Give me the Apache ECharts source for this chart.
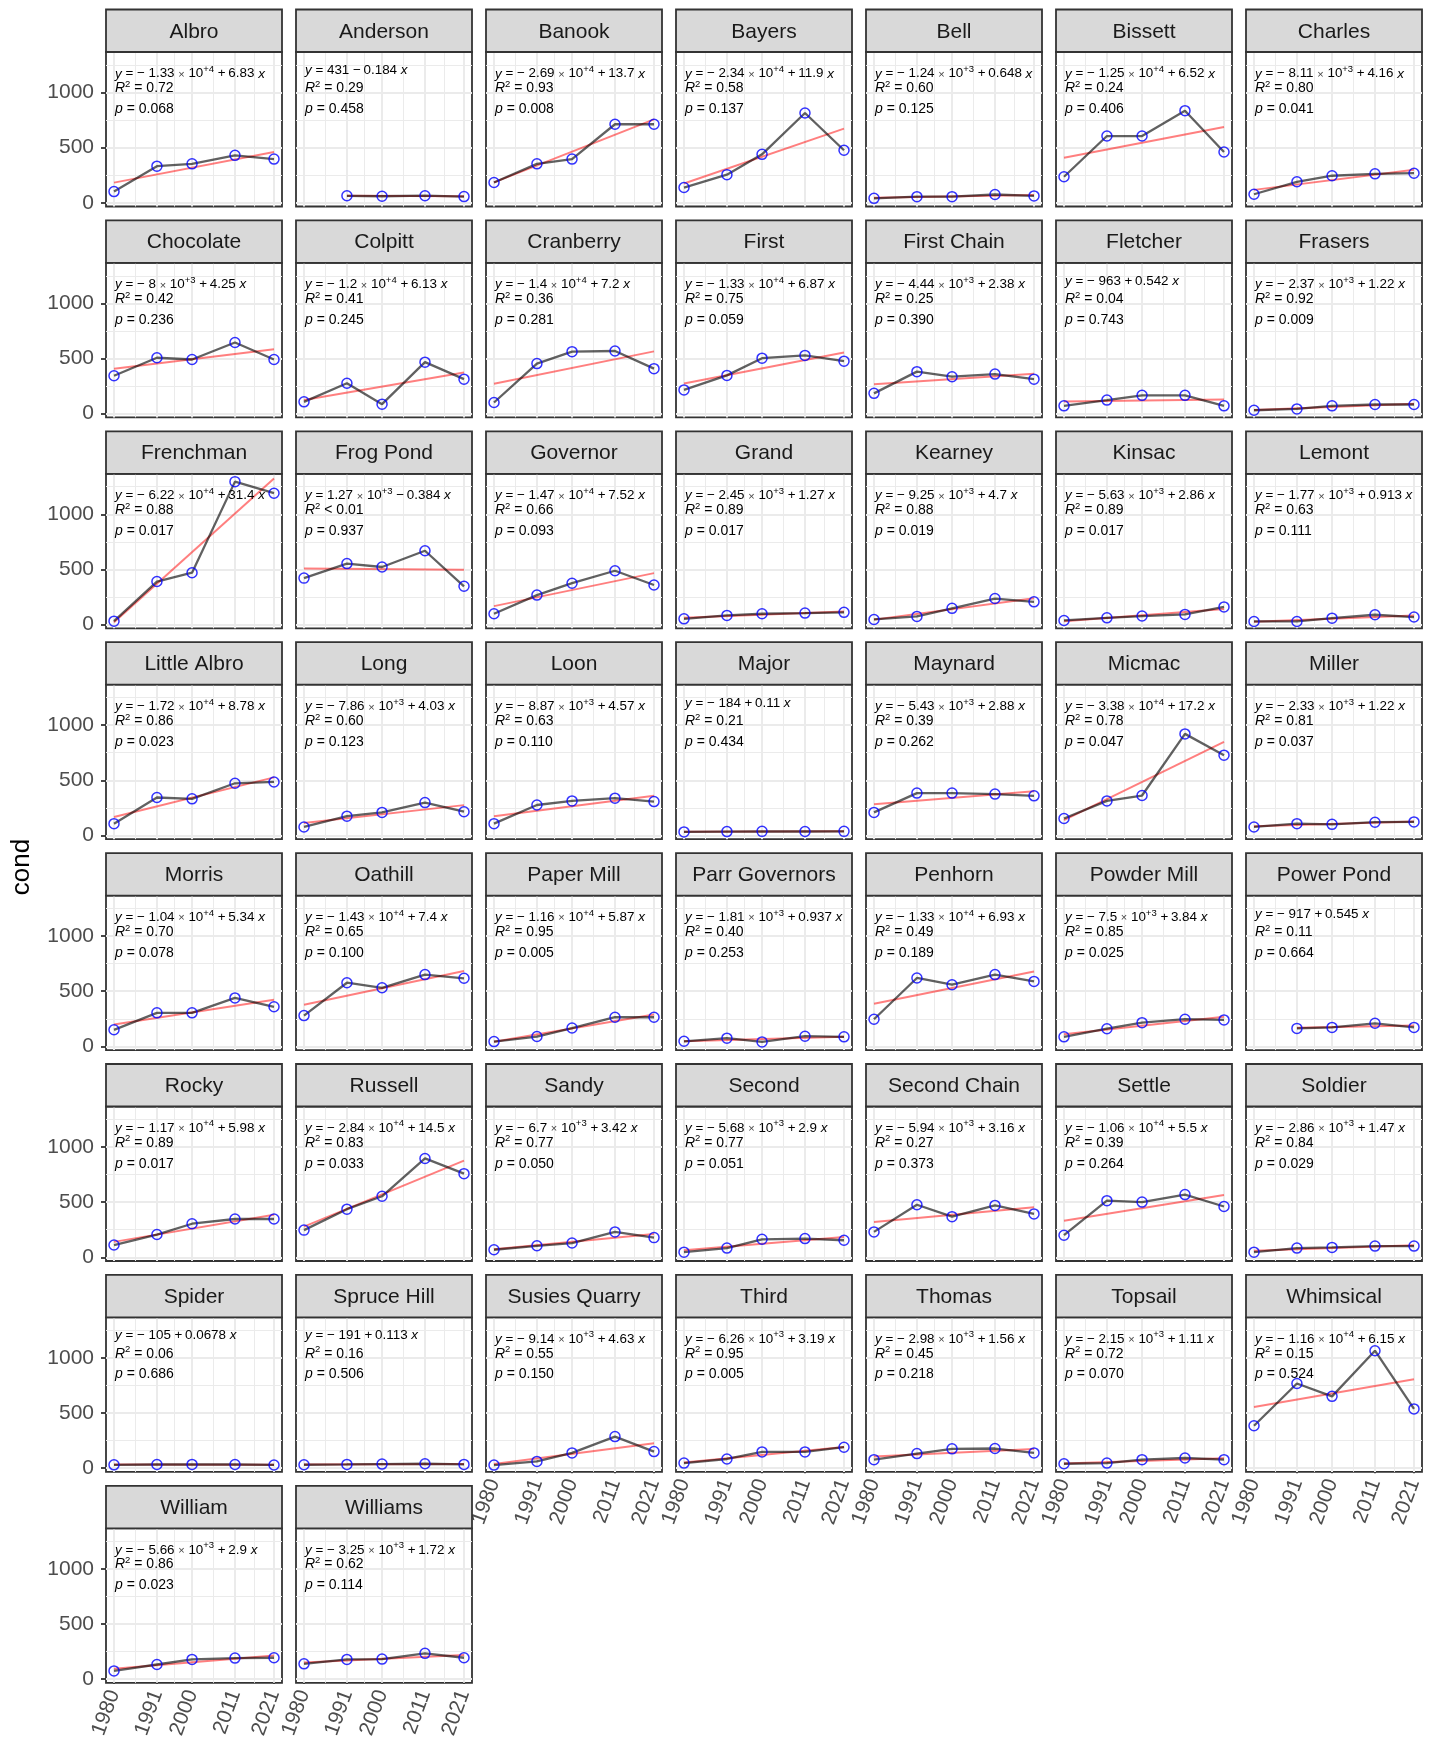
<!DOCTYPE html>
<html>
<head>
<meta charset="utf-8">
<script src="https://cdn.jsdelivr.net/npm/echarts@6/dist/echarts.min.js"></script>
<style>
  html, body { margin: 0; padding: 0; background: #fff; }
  #chart { width: 1445px; height: 1742px; }
</style>
</head>
<body>
<div id="chart"></div>
<script>
// facet order
const lakes = ['Albro', 'Anderson', 'Banook', 'Bayers', 'Bell', 'Bissett', 'Charles',
  'Chocolate', 'Colpitt', 'Cranberry', 'First', 'First Chain', 'Fletcher', 'Frasers',
  'Frenchman', 'Frog Pond', 'Governor', 'Grand', 'Kearney', 'Kinsac', 'Lemont',
  'Little Albro', 'Long', 'Loon', 'Major', 'Maynard', 'Micmac', 'Miller',
  'Morris', 'Oathill', 'Paper Mill', 'Parr Governors', 'Penhorn', 'Powder Mill', 'Power Pond',
  'Rocky', 'Russell', 'Sandy', 'Second', 'Second Chain', 'Settle', 'Soldier',
  'Spider', 'Spruce Hill', 'Susies Quarry', 'Third', 'Thomas', 'Topsail', 'Whimsical',
  'William', 'Williams']

const years = [1980, 1991, 2000, 2011, 2021]
const yearMinor = [1985.5, 1995.5, 2005.5, 2016]
const condBreaks = [0, 500, 1000]
const condMinor = [250, 750, 1250]

// cond per lake, one value per year (null = not sampled)
const cond = [
  [101, 332, 353, 430, 396],
  [null, 63, 59, 64, 56],
  [184, 353, 396, 712, 712],
  [138, 255, 439, 814, 476],
  [40, 55, 55, 75, 62],
  [236, 605, 605, 835, 460],
  [77, 190, 245, 262, 268],
  [344, 507, 491, 645, 491],
  [107, 276, 86, 467, 313],
  [101, 454, 562, 568, 408],
  [215, 347, 503, 528, 476],
  [184, 381, 335, 359, 313],
  [71, 123, 166, 166, 71],
  [31, 43, 71, 83, 83],
  [31, 390, 470, 1296, 1191],
  [421, 553, 522, 669, 347],
  [98, 267, 375, 488, 359],
  [52, 83, 98, 104, 111],
  [46, 74, 147, 236, 206],
  [37, 61, 77, 92, 160],
  [28, 28, 58, 89, 68],
  [107, 344, 332, 473, 485],
  [77, 175, 209, 298, 215],
  [107, 276, 313, 338, 307],
  [32, 35, 37, 36, 37],
  [209, 384, 384, 375, 359],
  [154, 313, 362, 921, 728],
  [77, 107, 101, 120, 123],
  [150, 304, 304, 439, 359],
  [279, 577, 531, 651, 617],
  [43, 89, 166, 264, 264],
  [46, 74, 40, 92, 86],
  [246, 620, 559, 651, 589],
  [86, 160, 215, 246, 240],
  [null, 163, 172, 209, 172],
  [111, 206, 304, 347, 347],
  [246, 436, 553, 896, 758],
  [68, 104, 129, 230, 178],
  [46, 83, 163, 169, 154],
  [230, 476, 368, 470, 393],
  [200, 513, 500, 568, 460],
  [46, 83, 89, 101, 101],
  [30, 33, 34, 33, 29],
  [31, 34, 37, 40, 34],
  [28, 61, 138, 286, 150],
  [46, 83, 147, 147, 190],
  [77, 132, 175, 178, 138],
  [40, 46, 77, 92, 77],
  [384, 768, 651, 1065, 537],
  [74, 132, 178, 190, 193],
  [138, 178, 181, 233, 193]
]

// fit labels as printed in each panel
const eqIntercept = ['− 1.33', '431', '− 2.69', '− 2.34', '− 1.24', '− 1.25', '− 8.11',
  '− 8', '− 1.2', '− 1.4', '− 1.33', '− 4.44', '− 963', '− 2.37',
  '− 6.22', '1.27', '− 1.47', '− 2.45', '− 9.25', '− 5.63', '− 1.77',
  '− 1.72', '− 7.86', '− 8.87', '− 184', '− 5.43', '− 3.38', '− 2.33',
  '− 1.04', '− 1.43', '− 1.16', '− 1.81', '− 1.33', '− 7.5', '− 917',
  '− 1.17', '− 2.84', '− 6.7', '− 5.68', '− 5.94', '− 1.06', '− 2.86',
  '− 105', '− 191', '− 9.14', '− 6.26', '− 2.98', '− 2.15', '− 1.16',
  '− 5.66', '− 3.25']
const eqExp = ['+4', '', '+4', '+4', '+3', '+4', '+3',
  '+3', '+4', '+4', '+4', '+3', '', '+3',
  '+4', '+3', '+4', '+3', '+3', '+3', '+3',
  '+4', '+3', '+3', '', '+3', '+4', '+3',
  '+4', '+4', '+4', '+3', '+4', '+3', '',
  '+4', '+4', '+3', '+3', '+3', '+4', '+3',
  '', '', '+3', '+3', '+3', '+3', '+4',
  '+3', '+3']
const eqSlope = ['+ 6.83', '− 0.184', '+ 13.7', '+ 11.9', '+ 0.648', '+ 6.52', '+ 4.16',
  '+ 4.25', '+ 6.13', '+ 7.2', '+ 6.87', '+ 2.38', '+ 0.542', '+ 1.22',
  '+ 31.4', '− 0.384', '+ 7.52', '+ 1.27', '+ 4.7', '+ 2.86', '+ 0.913',
  '+ 8.78', '+ 4.03', '+ 4.57', '+ 0.11', '+ 2.88', '+ 17.2', '+ 1.22',
  '+ 5.34', '+ 7.4', '+ 5.87', '+ 0.937', '+ 6.93', '+ 3.84', '+ 0.545',
  '+ 5.98', '+ 14.5', '+ 3.42', '+ 2.9', '+ 3.16', '+ 5.5', '+ 1.47',
  '+ 0.0678', '+ 0.113', '+ 4.63', '+ 3.19', '+ 1.56', '+ 1.11', '+ 6.15',
  '+ 2.9', '+ 1.72']
const r2Text = ['= 0.72', '= 0.29', '= 0.93', '= 0.58', '= 0.60', '= 0.24', '= 0.80',
  '= 0.42', '= 0.41', '= 0.36', '= 0.75', '= 0.25', '= 0.04', '= 0.92',
  '= 0.88', '< 0.01', '= 0.66', '= 0.89', '= 0.88', '= 0.89', '= 0.63',
  '= 0.86', '= 0.60', '= 0.63', '= 0.21', '= 0.39', '= 0.78', '= 0.81',
  '= 0.70', '= 0.65', '= 0.95', '= 0.40', '= 0.49', '= 0.85', '= 0.11',
  '= 0.89', '= 0.83', '= 0.77', '= 0.77', '= 0.27', '= 0.39', '= 0.84',
  '= 0.06', '= 0.16', '= 0.55', '= 0.95', '= 0.45', '= 0.72', '= 0.15',
  '= 0.86', '= 0.62']
const pText = ['0.068', '0.458', '0.008', '0.137', '0.125', '0.406', '0.041',
  '0.236', '0.245', '0.281', '0.059', '0.390', '0.743', '0.009',
  '0.017', '0.937', '0.093', '0.017', '0.019', '0.017', '0.111',
  '0.023', '0.123', '0.110', '0.434', '0.262', '0.047', '0.037',
  '0.078', '0.100', '0.005', '0.253', '0.189', '0.025', '0.664',
  '0.017', '0.033', '0.050', '0.051', '0.373', '0.264', '0.029',
  '0.686', '0.506', '0.150', '0.005', '0.218', '0.070', '0.524',
  '0.023', '0.114']

const FONT = "'Liberation Sans', Arial, Helvetica, sans-serif"
const NCOL = 7
// panel geometry (px)
const L0 = 106, PW = 176, CP = 190
const T0 = 9.5, SH = 42.5, PH = 154.5, RP = 210.9
const XMIN = 1977.95, XMAX = 2023.05
const YMIN = -34, YMAX = 1367

// least squares line, like geom_smooth(method = 'lm')
function fitLine(xs, ys) {
    const pts = xs.map((x, k) => [x, ys[k]]).filter(p => p[1] != null)
    const n = pts.length
    const mx = pts.reduce((s, p) => s + p[0], 0) / n
    const my = pts.reduce((s, p) => s + p[1], 0) / n
    let sxy = 0, sxx = 0
    pts.forEach(p => { sxy += (p[0] - mx) * (p[1] - my); sxx += (p[0] - mx) ** 2 })
    const b = sxy / sxx
    const a = my - b * mx
    const x0 = pts[0][0], x1 = pts[n - 1][0]
    return [[x0, a + b * x0], [x1, a + b * x1]]
}

const rich = {
    n: { fontSize: 14, fontFamily: FONT, lineHeight: 16, verticalAlign: 'bottom', fill: '#000' },
    i: { fontSize: 14, fontFamily: FONT, fontStyle: 'italic', lineHeight: 16, verticalAlign: 'bottom', fill: '#000' },
    e: { fontSize: 13.4, fontFamily: FONT, lineHeight: 16, verticalAlign: 'bottom', fill: '#000' },
    ei: { fontSize: 13.4, fontFamily: FONT, fontStyle: 'italic', lineHeight: 16, verticalAlign: 'bottom', fill: '#000' },
    t: { fontSize: 11, fontFamily: FONT, lineHeight: 16, verticalAlign: 'bottom', fill: '#444' },
    s: { fontSize: 9.5, fontFamily: FONT, verticalAlign: 'top', fill: '#000' }
}

function gridLines() {
    const major = { color: '#EBEBEB', width: 2, type: 'solid' }
    const minor = { color: '#EBEBEB', width: 1, type: 'solid' }
    const d = []
    yearMinor.forEach(v => d.push({ xAxis: v, lineStyle: minor }))
    condMinor.forEach(v => d.push({ yAxis: v, lineStyle: minor }))
    years.forEach(v => d.push({ xAxis: v, lineStyle: major }))
    condBreaks.forEach(v => d.push({ yAxis: v, lineStyle: major }))
    return d
}

const plain = v => String(v)
const grids = [], xAxes = [], yAxes = [], series = [], graphics = []

lakes.forEach((name, i) => {
    const r = Math.floor(i / NCOL), c = i % NCOL
    const left = L0 + c * CP
    const stripTop = T0 + r * RP
    const top = stripTop + SH
    const bottomRow = i + NCOL >= lakes.length
    const firstCol = c === 0

    grids.push({
        left: left, top: top, width: PW, height: PH,
        show: true, backgroundColor: '#fff', borderColor: '#333333', borderWidth: 1.8,
        containLabel: false, outerBoundsMode: 'none'
    })
    xAxes.push({
        gridIndex: i, type: 'value', min: XMIN, max: XMAX,
        splitLine: { show: false }, axisLine: { show: false },
        axisTick: { show: bottomRow, customValues: years, length: 5, lineStyle: { color: '#333333', width: 1.8 } },
        axisLabel: { show: bottomRow, customValues: years, formatter: plain, rotate: 70, margin: 8, fontSize: 21, color: '#4D4D4D', fontFamily: FONT }
    })
    yAxes.push({
        gridIndex: i, type: 'value', min: YMIN, max: YMAX,
        splitLine: { show: false }, axisLine: { show: false },
        axisTick: { show: firstCol, customValues: condBreaks, length: 5, lineStyle: { color: '#333333', width: 1.8 } },
        axisLabel: { show: firstCol, customValues: condBreaks, formatter: plain, margin: 12, fontSize: 21, color: '#4D4D4D', fontFamily: FONT }
    })

    const pts = years.map((y, k) => [y, cond[i][k]]).filter(p => p[1] != null)

    series.push({
        type: 'line', xAxisIndex: i, yAxisIndex: i, silent: true, z: 2,
        data: fitLine(years, cond[i]), symbol: 'none',
        lineStyle: { color: 'rgba(255,0,0,0.5)', width: 2 },
        markLine: {
            silent: true, symbol: 'none', z: 1, animation: false,
            label: { show: false }, emphasis: { disabled: true },
            data: gridLines()
        }
    })
    series.push({
        type: 'line', xAxisIndex: i, yAxisIndex: i, silent: true, z: 3,
        data: pts, symbol: 'none',
        lineStyle: { color: 'rgba(0,0,0,0.62)', width: 2.3 }
    })
    series.push({
        type: 'scatter', xAxisIndex: i, yAxisIndex: i, silent: true, z: 4,
        data: pts, symbol: 'circle', symbolSize: 10,
        itemStyle: { color: 'rgba(0,0,0,0)', borderColor: '#0000FF', borderWidth: 1.5 }
    })

    // strip
    graphics.push({
        type: 'rect', silent: true, z: 10,
        shape: { x: left, y: stripTop, width: PW, height: SH },
        style: { fill: '#D9D9D9', stroke: '#333333', lineWidth: 1.8 }
    })
    graphics.push({
        type: 'text', silent: true, z: 11, x: left + PW / 2, y: stripTop + SH / 2 + 1,
        style: { text: name, fontSize: 21, fontFamily: FONT, fill: '#1A1A1A', align: 'center', verticalAlign: 'middle', textAlign: 'center', textVerticalAlign: 'middle' }
    })

    // equation, R2, p
    const hasExp = eqExp[i] !== ''
    const slope = eqSlope[i].replace(' ', '\u2009')
    const eq = hasExp
        ? `{ei|y}{e| = ${eqIntercept[i]} }{t|×}{e| 10}{s|${eqExp[i]}}{e| ${slope} }{ei|x}`
        : `{ei|y}{e| = ${eqIntercept[i]} ${slope} }{ei|x}`
    const lines = [
        [eq, hasExp ? 12.3 : 8.8],
        [`{i|R}{s|2}{n| ${r2Text[i]}}`, 27.3],
        [`{i|p}{n| = ${pText[i]}}`, 48.2]
    ]
    lines.forEach(([txt, dy]) => {
        graphics.push({
            type: 'text', silent: true, z: 12, x: left + 9, y: top + dy,
            style: { text: txt, rich: rich, fontSize: 14, fontFamily: FONT, lineHeight: 16, fill: '#000', align: 'left', verticalAlign: 'top', textAlign: 'left', textVerticalAlign: 'top' }
        })
    })
})

graphics.push({
    type: 'text', silent: true, x: 22, y: 867, rotation: Math.PI / 2,
    style: { text: 'cond', fontSize: 26, fontFamily: FONT, fill: '#000', align: 'center', verticalAlign: 'middle', textAlign: 'center', textVerticalAlign: 'middle' }
})

const chart = echarts.init(document.getElementById('chart'), null, { renderer: 'canvas' })
chart.setOption({
    backgroundColor: '#fff',
    animation: false,
    textStyle: { fontFamily: FONT },
    grid: grids,
    xAxis: xAxes,
    yAxis: yAxes,
    series: series,
    graphic: { elements: graphics }
})
</script>
</body>
</html>
